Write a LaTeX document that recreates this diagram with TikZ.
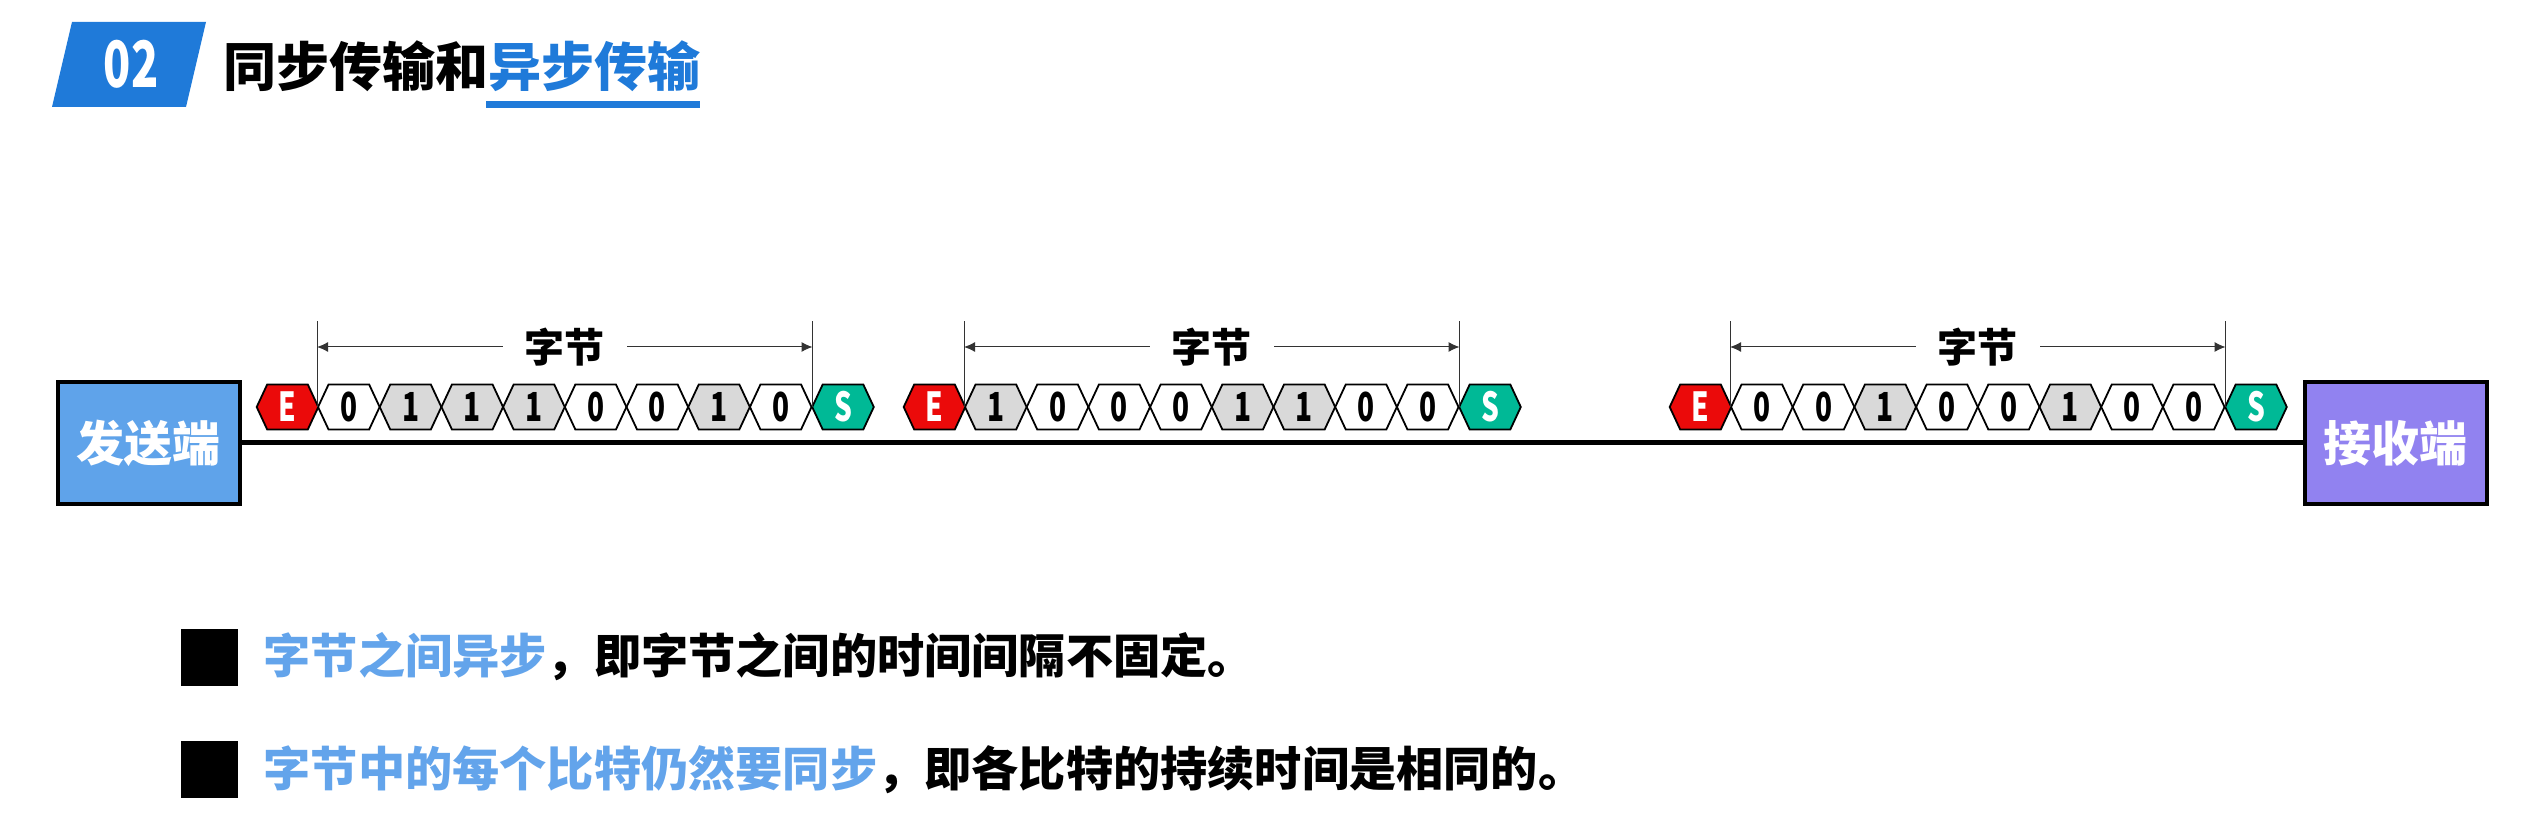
\documentclass[tikz,border=0pt]{standalone}
\usepackage{fontspec}
\setmainfont{Noto Sans CJK SC}
\usetikzlibrary{shapes.symbols,arrows.meta}
\definecolor{titleblue}{RGB}{31,122,217}
\definecolor{textblue}{RGB}{99,164,235}
\definecolor{sendblue}{RGB}{95,163,234}
\definecolor{recvpurple}{RGB}{145,130,240}
\definecolor{endred}{RGB}{235,10,10}
\definecolor{startgreen}{RGB}{0,185,150}
\colorlet{bit0}{white}
\definecolor{bit1}{RGB}{217,217,217}
\begin{document}
\begin{tikzpicture}[x=0.25pt,y=-0.25pt,
  every node/.style={inner sep=0pt},
  hexbox/.style={signal,signal to=east and west,signal pointer angle=130,draw,line width=0.45pt,
    minimum width=15.4pt,minimum height=11.25pt},
  bithex/.style={hexbox,font=\bfseries\fontsize{10}{12}\selectfont},
  endhex/.style={hexbox,fill=endred,text=white,font=\bfseries\fontsize{10}{12}\selectfont},
  starthex/.style={hexbox,fill=startgreen,text=white,font=\bfseries\fontsize{10}{12}\selectfont},
  endbox/.style={draw,line width=1pt,minimum width=45.5pt,minimum height=30.5pt,text=white,
    font=\bfseries\fontsize{12}{14}\selectfont},
  dimline/.style={line width=0.25pt,draw=black!80},
  bullet/.style={fill=black,minimum size=14.25pt},
  bullettext/.style={anchor=west,font=\bfseries\fontsize{11.8}{14}\selectfont}]
\useasboundingbox (0,0) rectangle (2532,834);
% title
\fill[titleblue] (72,22) -- (206,22) -- (186,107) -- (52,107) -- cycle;
\node[text=white,font=\bfseries\fontsize{16}{18}\selectfont] (num) at (131,64) {\scalebox{0.7}[1]{02}};
\node[anchor=west,font=\bfseries\fontsize{13.25}{15}\selectfont] (title) at (223,66)
  {同步传输和\textcolor{titleblue}{异步传输}};
\fill[titleblue] (486,101) rectangle (700,108);
% sender, line, receiver
\node[endbox,fill=sendblue] (send) at (149,443) {发送端};
\node[endbox,fill=recvpurple] (recv) at (2395.5,443) {接收端};
\draw[line width=1.25pt] (send.east) -- (recv.west);
% frames
\foreach \gx/\bits/\g in {257/{0,1,1,1,0,0,1,0}/1,904/{1,0,0,0,1,1,0,0}/2,1670/{0,0,1,0,0,1,0,0}/3}{
  \node[endhex] (g\g-E) at (\gx+30.5,407) {\scalebox{0.7}[1]{E}};
  \foreach \b [count=\i] in \bits
    \node[bithex,fill=bit\b] (g\g-b\i) at (\gx+30.15+61.7*\i,407) {\scalebox{0.7}[1]{\b}};
  \node[starthex] (g\g-S) at (\gx+586,407) {\scalebox{0.7}[1]{S}};
  \draw[dimline] (g\g-b1.west) -- (g\g-b1.west |- 0,321);
  \draw[dimline] (g\g-b8.east) -- (g\g-b8.east |- 0,321);
  \draw[dimline,{Latex[length=2.75pt,width=2.5pt]}-{Latex[length=2.75pt,width=2.5pt]}]
    (g\g-b1.west |- 0,347) -- (g\g-b8.east |- 0,347)
    node[midway,fill=white,inner xsep=5.5pt,font=\bfseries\fontsize{10}{12}\selectfont] (byte\g) {字节};
}
% notes
\node[bullet] (sq1) at (209.5,657.5) {};
\node[bullettext] (note1) at (263,657)
  {\textcolor{textblue}{字节之间异步}，即字节之间的时间间隔不固定。};
\node[bullet] (sq2) at (209.5,769.5) {};
\node[bullettext] (note2) at (263,770)
  {\textcolor{textblue}{字节中的每个比特仍然要同步}，即各比特的持续时间是相同的。};
\end{tikzpicture}
\end{document}
